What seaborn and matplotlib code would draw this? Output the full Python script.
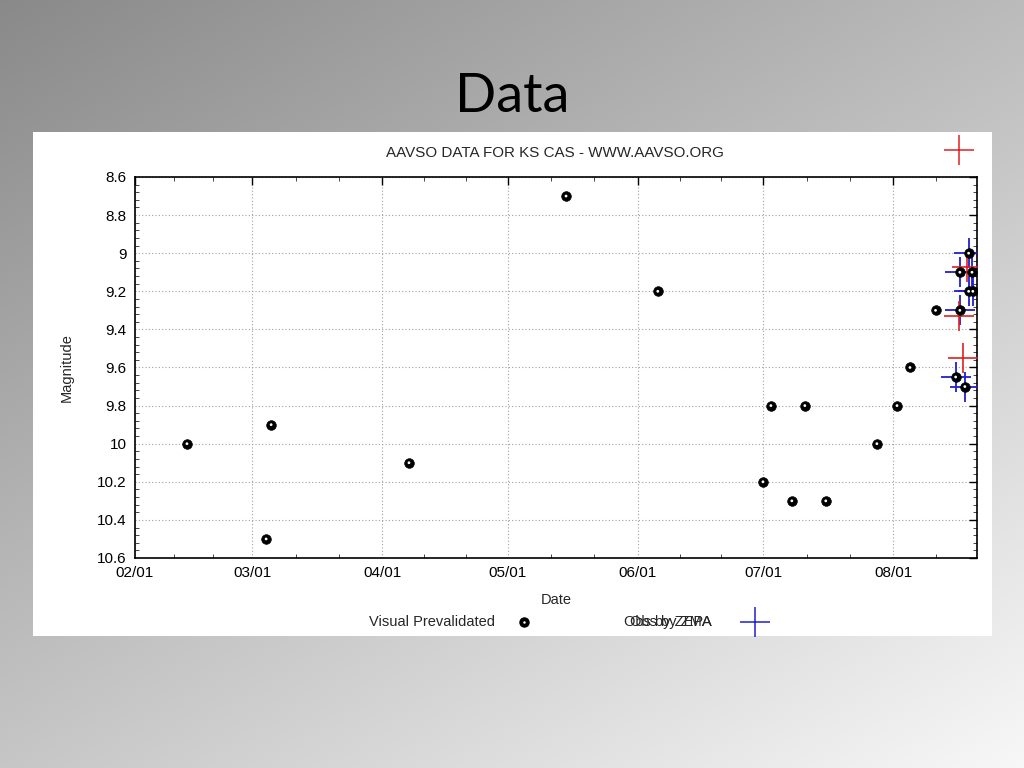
import numpy as np
import pandas as pd
import matplotlib
matplotlib.use("Agg")
import matplotlib.pyplot as plt
import seaborn as sns

# ---- data (days since Feb 01) ----
vis_day = [12.4, 31.3, 32.5, 65.4, 102.9, 124.8, 149.9, 151.8, 156.8, 159.9, 164.9,
           177.1, 181.9, 185.0, 191.1, 195.9, 196.9, 196.9, 198.1, 199.0, 199.0, 199.8, 200.0]
vis_mag = [10.0, 10.5, 9.9, 10.1, 8.7, 9.2, 10.2, 9.8, 10.3, 9.8, 10.3,
           10.0, 9.8, 9.6, 9.3, 9.65, 9.1, 9.3, 9.7, 9.0, 9.2, 9.1, 9.2]
zma_day = [195.9, 196.9, 196.9, 198.1, 199.0, 199.0, 199.8, 200.0]
zma_mag = [9.65, 9.1, 9.3, 9.7, 9.0, 9.2, 9.1, 9.2]
zepa_day = [198.6, 196.7, 197.6]
zepa_mag = [9.07, 9.33, 9.55]
tick_pos = [0, 28, 59, 89, 120, 150, 181]
tick_labels = ["02/01", "03/01", "04/01", "05/01", "06/01", "07/01", "08/01"]
y_ticks = [8.6, 8.8, 9.0, 9.2, 9.4, 9.6, 9.8, 10.0, 10.2, 10.4, 10.6]
y_labels = ["8.6", "8.8", "9", "9.2", "9.4", "9.6", "9.8", "10", "10.2", "10.4", "10.6"]

vis = pd.DataFrame({"day": vis_day, "mag": vis_mag})
zma = pd.DataFrame({"day": zma_day, "mag": zma_mag})
zepa = pd.DataFrame({"day": zepa_day, "mag": zepa_mag})

sns.set_theme(style="white")
plt.rcParams['font.family'] = ['Liberation Sans', 'DejaVu Sans']

fig = plt.figure(figsize=(10.24, 7.68), dpi=100)

# gradient background
bg = fig.add_axes([0, 0, 1, 1], zorder=-10)
xx, yy = np.meshgrid(np.linspace(0, 1, 256), np.linspace(0, 1, 192))
g = (xx * 0.45 + yy * 0.55)
g = 0.54 + g * 0.43
bg.imshow(np.dstack([g, g, g]), extent=[0, 1, 0, 1], aspect='auto', origin='upper')
bg.set_axis_off()
bg.add_patch(plt.Rectangle((33 / 1024, 1 - 636 / 768), (992 - 33) / 1024, (636 - 132) / 768,
                           transform=bg.transAxes, facecolor='white', edgecolor='none'))
fig.text(0.5, 1 - 97 / 768, "Data", ha='center', va='center', fontsize=39,
         family=['Lato', 'DejaVu Sans'], color='black')

ax = fig.add_axes([135 / 1024, 1 - 558 / 768, (977 - 135) / 1024, (558 - 177) / 768])
ax.set_facecolor('white')

sns.scatterplot(data=zma, x="day", y="mag", ax=ax, marker='+', s=450, color='#2020d0',
                linewidth=1.3, zorder=3, legend=False)
sns.scatterplot(data=zepa, x="day", y="mag", ax=ax, marker='+', s=450, color='#e02020',
                linewidth=1.2, zorder=4, legend=False)
sns.scatterplot(data=vis, x="day", y="mag", ax=ax, marker='o', s=48, color='black',
                edgecolor='black', linewidth=0.5, zorder=5, legend=False)
sns.scatterplot(data=vis, x="day", y="mag", ax=ax, marker='o', s=4, color='white',
                edgecolor='none', zorder=6, legend=False)

ax.set_xlim(0, 201)
ax.set_ylim(10.6, 8.6)
ax.set_xticks(tick_pos)
ax.set_xticklabels(tick_labels)
ax.set_xticks([(tick_pos[i] + (tick_pos[i + 1] - tick_pos[i]) * k / 3)
               for i in range(len(tick_pos) - 1) for k in (1, 2)] + [191.3], minor=True)
ax.set_yticks(y_ticks)
ax.set_yticklabels(y_labels)
ax.set_yticks(np.arange(8.6, 10.61, 0.04), minor=True)
ax.grid(True, which='major', color='#a0a0a0', linestyle=(0, (1, 2)), linewidth=0.8)
ax.tick_params(which='major', direction='in', length=6, width=1, top=True, right=True,
               labelsize=11, colors='black', pad=6)
ax.tick_params(which='minor', direction='in', length=3, width=0.6, top=True, right=True,
               left=True, bottom=True)
for s in ax.spines.values():
    s.set_color('black')
    s.set_linewidth(1.2)
ax.set_xlabel("Date", fontsize=10.5, labelpad=9)
ax.set_ylabel("Magnitude", fontsize=10.5, labelpad=17)

fig.text(555 / 1024, 1 - 153 / 768, "AAVSO DATA FOR KS CAS - WWW.AAVSO.ORG",
         ha='center', va='center', fontsize=10.9)
fig.lines.append(plt.Line2D([959 / 1024], [1 - 150 / 768], marker='+', markersize=21,
                            markeredgewidth=1.1, color='#e02020', transform=fig.transFigure))
fig.text(495 / 1024, 1 - 622 / 768, "Visual Prevalidated", ha='right', va='center', fontsize=10.5)
fig.lines.append(plt.Line2D([524 / 1024], [1 - 622 / 768], marker='o', markersize=6.5,
                            color='black', linestyle='none', transform=fig.transFigure))
fig.lines.append(plt.Line2D([524 / 1024], [1 - 622 / 768], marker='o', markersize=1.8,
                            color='white', markeredgewidth=0, linestyle='none', transform=fig.transFigure))
fig.text(712 / 1024, 1 - 622 / 768, "Obs by ZEPA", ha='right', va='center', fontsize=10.5)
fig.text(712 / 1024, 1 - 622 / 768, "Obs by ZMA", ha='right', va='center', fontsize=10.5)
fig.lines.append(plt.Line2D([755 / 1024], [1 - 622 / 768], marker='+', markersize=21,
                            markeredgewidth=1.1, color='#2020d0', transform=fig.transFigure))

fig.savefig("out.png", dpi=100)
